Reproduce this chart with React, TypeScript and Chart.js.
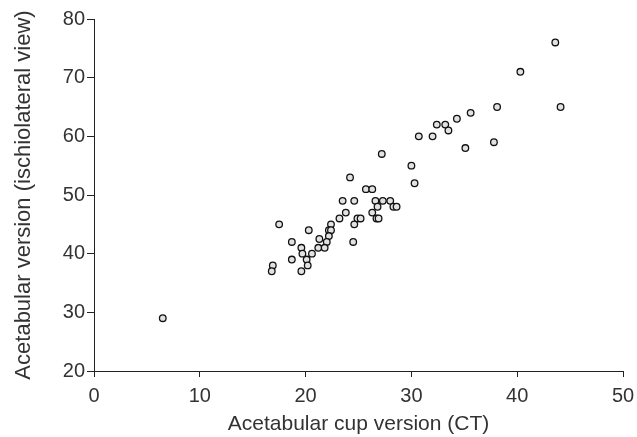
import React, { useEffect, useRef } from "react";
import { Chart, registerables } from "chart.js";

Chart.register(...registerables);

const cupVersionCT = [
  27.2, 30.0, 30.3, 24.2, 25.7, 26.3, 23.5, 24.6, 26.6, 27.3, 28.0, 26.8, 28.3, 28.6,
  23.8, 26.3, 23.2, 24.9, 25.2, 26.7, 26.9, 22.4, 24.6, 17.5, 22.2, 22.4, 20.3, 22.2,
  21.3, 22.0, 24.5, 18.7, 19.6, 21.2, 21.8, 19.7, 20.6, 20.1, 18.7, 20.2, 16.9, 16.8,
  19.6, 6.5, 43.6, 40.3, 44.1, 38.1, 35.6, 34.3, 32.4, 33.2, 33.5, 30.7, 32.0, 35.1, 37.8,
];
const ischiolateralVersion = [
  57, 55, 52, 53, 51, 51, 49, 49, 49, 49, 49, 48, 48, 48,
  47, 47, 46, 46, 46, 46, 46, 45, 45, 45, 44, 44, 44, 43,
  42.5, 42, 42, 42, 41, 41, 41, 40, 40, 39, 39, 38, 38, 37,
  37, 29, 76, 71, 65, 65, 64, 63, 62, 62, 61, 60, 60, 58, 59,
];
const xTicks = [0, 10, 20, 30, 40, 50];
const yTicks = [20, 30, 40, 50, 60, 70, 80];
const xTitle = "Acetabular cup version (CT)";
const yTitle = "Acetabular version (ischiolateral view)";

export default function App() {
  const ref = useRef<HTMLCanvasElement | null>(null);
  useEffect(() => {
    document.body.style.margin = "0";
    const canvas = ref.current;
    if (!canvas) return;
    const font = "'Liberation Sans', Arial, sans-serif";
    const axisColor = "#222";
    const textColor = "#333";
    const chart = new Chart(canvas, {
      type: "scatter",
      data: {
        datasets: [
          {
            data: cupVersionCT.map((x, i) => ({ x, y: ischiolateralVersion[i] })),
            pointRadius: 3.3,
            pointBorderWidth: 1.3,
            backgroundColor: "#e2e2e2",
            borderColor: "#111",
          },
        ],
      },
      options: {
        animation: false,
        responsive: true,
        maintainAspectRatio: false,
        layout: { padding: { top: 19, right: 14, left: 0, bottom: 0 } },
        plugins: { legend: { display: false }, tooltip: { enabled: false } },
        scales: {
          x: {
            type: "linear",
            min: xTicks[0],
            max: xTicks[xTicks.length - 1],
            afterBuildTicks: (s: any) => {
              s.ticks = xTicks.map((v) => ({ value: v }));
            },
            afterFit: (s: any) => {
              s.height = 66;
              s.paddingLeft = 0;
              s.paddingRight = 0;
            },
            ticks: { color: textColor, font: { family: font, size: 20 }, padding: 7 },
            grid: { drawOnChartArea: false, drawTicks: true, tickLength: 6, color: axisColor },
            border: { color: axisColor, width: 1 },
            title: {
              display: true,
              text: xTitle,
              color: textColor,
              font: { family: font, size: 21 },
              padding: { top: 0, bottom: 0 },
            },
          },
          y: {
            type: "linear",
            min: yTicks[0],
            max: yTicks[yTicks.length - 1],
            afterBuildTicks: (s: any) => {
              s.ticks = yTicks.map((v) => ({ value: v }));
            },
            afterFit: (s: any) => {
              s.width = 94;
              s.paddingTop = 0;
              s.paddingBottom = 0;
            },
            ticks: { color: textColor, font: { family: font, size: 20 }, padding: 2 },
            grid: { drawOnChartArea: false, drawTicks: true, tickLength: 7, color: axisColor },
            border: { color: axisColor, width: 1 },
            title: {
              display: true,
              text: yTitle,
              color: textColor,
              font: { family: font, size: 22 },
              padding: { top: 11, bottom: 0 },
            },
          },
        },
      },
    });
    return () => chart.destroy();
  }, []);
  return (
    <div style={{ width: 637, height: 437, position: "relative" }}>
      <canvas ref={ref} />
    </div>
  );
}
